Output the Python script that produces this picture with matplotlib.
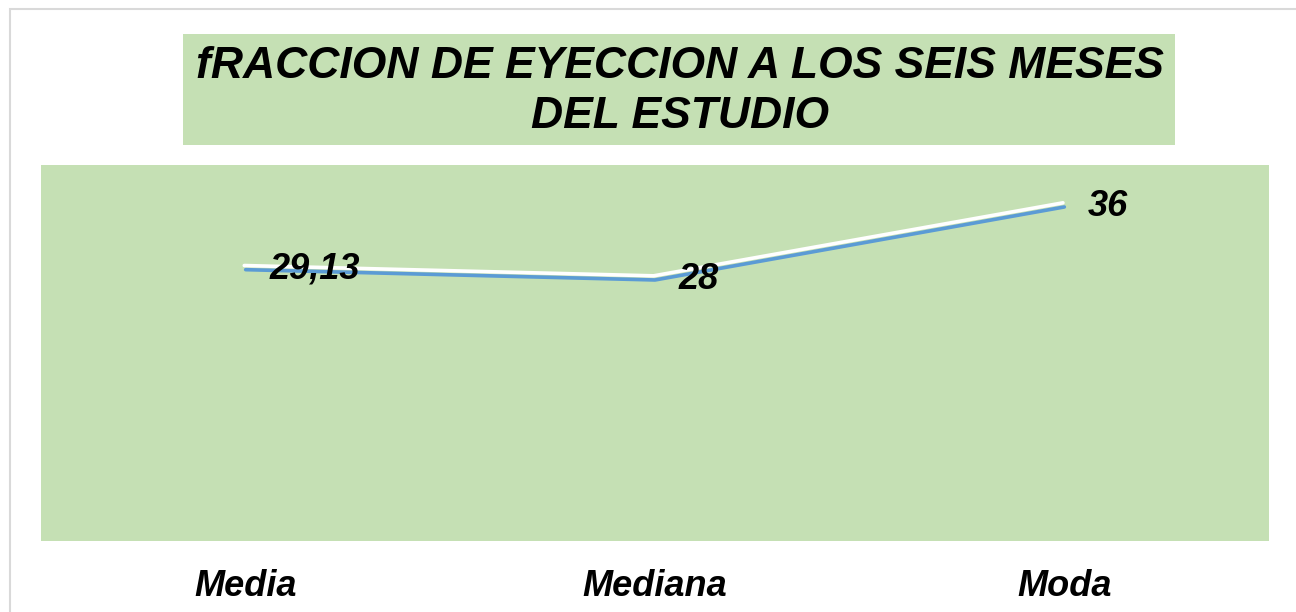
import matplotlib
matplotlib.use("Agg")
import matplotlib.pyplot as plt
import matplotlib.patheffects as pe
from matplotlib.patches import Rectangle

# data
categories = ["Media", "Mediana", "Moda"]
values = [29.13, 28, 36]
value_labels = ["29,13", "28", "36"]
title_lines = ["fRACCION DE EYECCION A LOS SEIS MESES", "DEL ESTUDIO"]

W, H = 1296, 612
green = "#C5E0B4"
blue = "#5B9BD5"

plt.rcParams["font.family"] = ["Liberation Sans", "DejaVu Sans"]

fig = plt.figure(figsize=(W / 100, H / 100), dpi=100)
fig.patch.set_facecolor("white")

# outer chart border (goes off right/bottom edge)
fig.patches.append(Rectangle((10 / W, -0.1), 1.2, (H - 9) / H + 0.1,
                             transform=fig.transFigure, fill=False,
                             edgecolor="#D9D9D9", linewidth=1.5))

# title box
fig.patches.append(Rectangle((183 / W, (H - 145) / H), (1175 - 183) / W, 111 / H,
                             transform=fig.transFigure, facecolor=green,
                             edgecolor="none"))
fig.text(680 / W, (H - 66) / H, title_lines[0], ha="center", va="center",
         fontsize=32, fontweight="bold", fontstyle="italic")
fig.text(680 / W, (H - 116) / H, title_lines[1], ha="center", va="center",
         fontsize=32, fontweight="bold", fontstyle="italic")

ax = fig.add_axes([41 / W, (H - 541) / H, 1228 / W, 376 / H])
ax.set_facecolor(green)
for s in ax.spines.values():
    s.set_visible(False)

x = list(range(len(categories)))
ax.plot(x, values, color=blue, linewidth=2.6, solid_capstyle="round",
        path_effects=[pe.SimpleLineShadow(offset=(-1, 3), shadow_color="white",
                                          alpha=1, rho=1),
                      pe.Normal()])

for xi, v, lab in zip(x, values, value_labels):
    ax.annotate(lab, (xi, v), xytext=(17, 0.5), textcoords="offset points",
                ha="left", va="center", fontsize=26, fontweight="bold",
                fontstyle="italic")

ax.set_xlim(-0.5, 2.5)
ax.set_ylim(-0.6, 40.6)
ax.set_yticks([])
ax.set_xticks(x)
ax.set_xticklabels(categories, fontsize=26, fontweight="bold", fontstyle="italic")
ax.tick_params(axis="x", length=0, pad=20)

fig.savefig("out.png", dpi=100, facecolor="white")
